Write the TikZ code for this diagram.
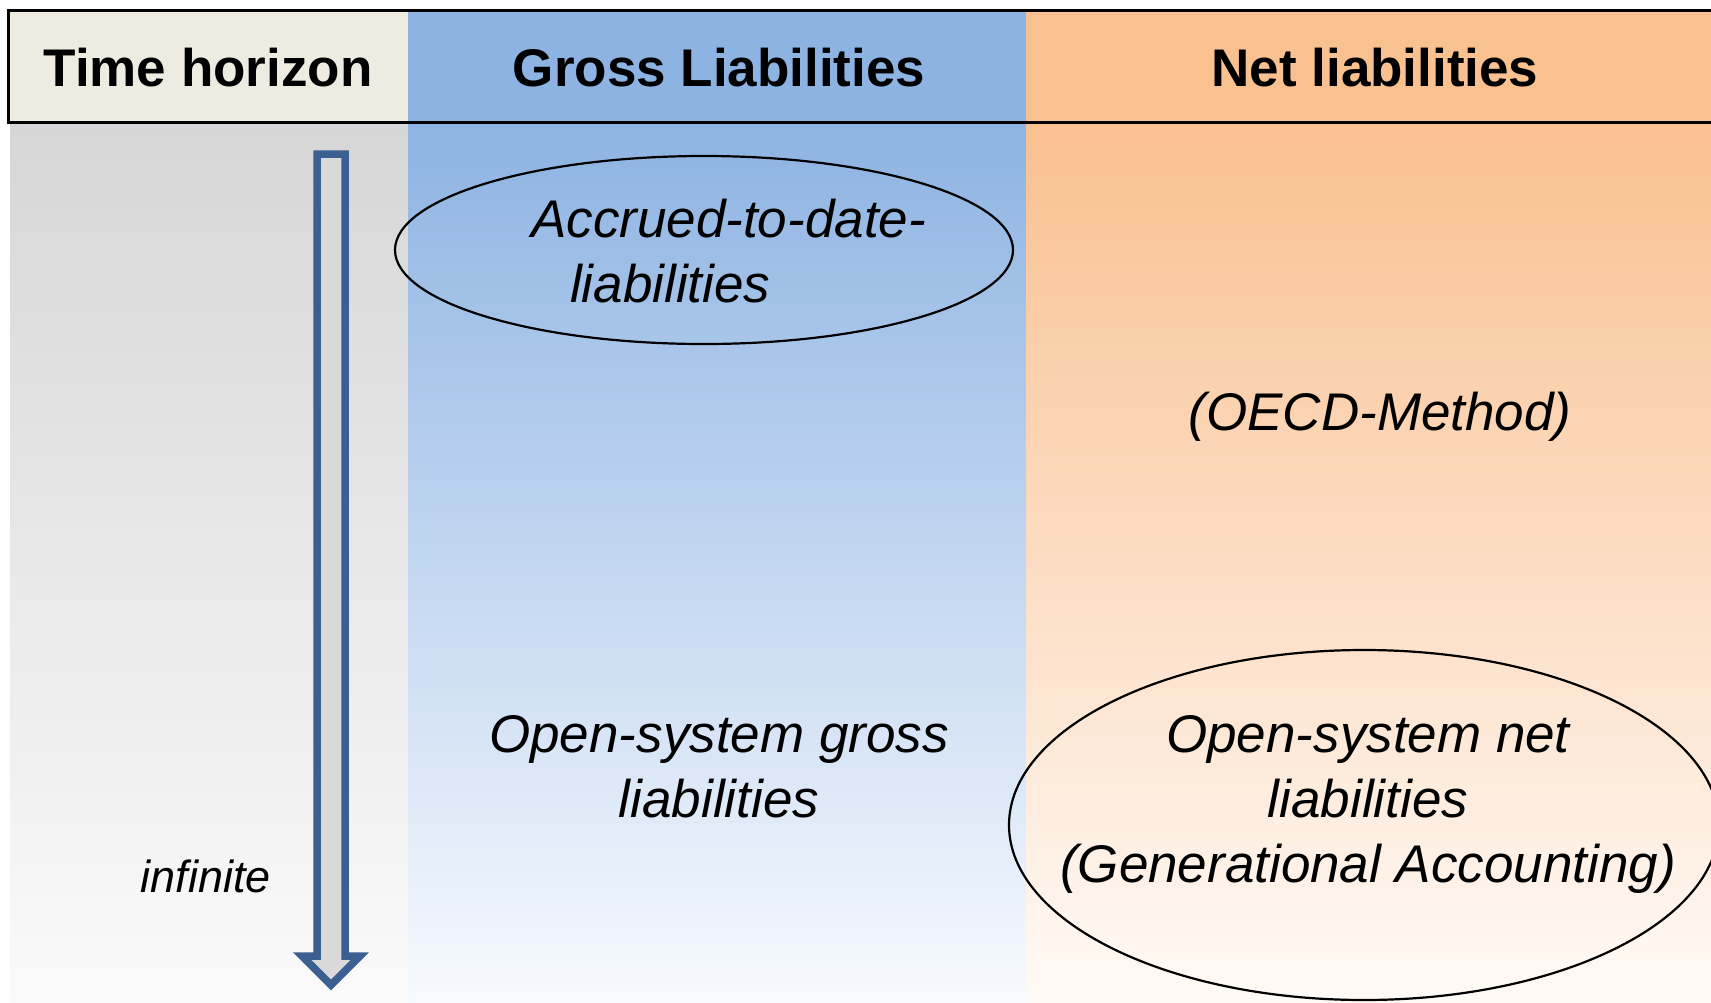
\documentclass[tikz,border=0pt]{standalone}
\usepackage{fontspec}
\setmainfont{Liberation Sans}
\usetikzlibrary{shapes.geometric}
\definecolor{hdrtan}{HTML}{EEECE1}
\definecolor{hdrblue}{HTML}{8DB3E2}
\definecolor{hdrorange}{HTML}{F9C090}
\definecolor{arrowblue}{HTML}{3C5F91}
\definecolor{arrowfill}{HTML}{D9D9D9}
\definecolor{graytop}{HTML}{D6D6D6}
\definecolor{graybot}{HTML}{FAFAFA}
\definecolor{bluebot}{HTML}{F7FAFE}
\definecolor{orangebot}{HTML}{FFFAF6}
\begin{document}
\begin{tikzpicture}[x=1pt,y=-1pt,
  hdr/.style={font=\fontsize{53}{64}\selectfont\bfseries, inner sep=0pt, anchor=base},
  body/.style={font=\fontsize{53}{65}\selectfont\itshape, inner sep=0pt, align=center, anchor=base},
  oval/.style={ellipse, draw=black, line width=2.2pt, inner sep=0pt}]
\useasboundingbox (0,0) rectangle (1711,1002);
\fill[white] (0,0) rectangle (1711,1002);
% column backgrounds
\shade[top color=graytop, bottom color=graybot] (10,122) rectangle (408,1002);
\shade[top color=hdrblue, bottom color=bluebot] (408,122) rectangle (1026,1002);
\shade[top color=hdrorange, bottom color=orangebot] (1026,122) rectangle (1711,1002);
% header
\fill[hdrtan] (8,10) rectangle (408,122);
\fill[hdrblue] (408,10) rectangle (1026,122);
\fill[hdrorange] (1026,10) rectangle (1716,122);
\draw[line width=3pt] (1716,10) -- (8,10) -- (8,122) -- (1716,122);
\node[hdr] (th) at (208,86) {Time horizon};
\node[hdr] (gl) at (719,86) {Gross Liabilities};
\node[hdr] (nl) at (1375,86) {Net liabilities};
% time arrow
\draw[draw=arrowblue, fill=arrowfill, line width=7.5pt, line join=miter]
  (317,154) -- (345,154) -- (345,956) -- (360,956) -- (331,985) -- (302,956) -- (317,956) -- cycle;
\node[font=\fontsize{45}{54}\selectfont\itshape, inner sep=0pt, anchor=base] (inf) at (206,892) {infinite};
% ellipses
\node[oval, minimum width=618pt, minimum height=188pt] (e1) at (704,250) {};
\node[oval, minimum width=710pt, minimum height=350pt] (e2) at (1364,825) {};
% texts (base anchor = baseline of last line)
\node[body, align=left, anchor=base west] (accr) at (531,302) {Accrued-to-date-\\\hspace*{39pt}liabilities};
\node[body] (oecd) at (1380,430) {(OECD-Method)};
\node[body] (osg) at (719,817) {Open-system gross\\liabilities};
\node[body] (osn) at (1368,882) {Open-system net\\liabilities\\(Generational Accounting)};
\end{tikzpicture}
\end{document}
